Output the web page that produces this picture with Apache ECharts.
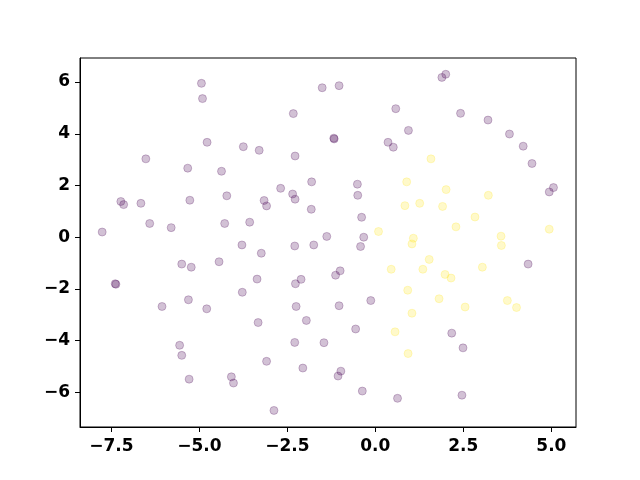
<!DOCTYPE html>
<html>
<head>
<meta charset="utf-8">
<script src="https://cdn.jsdelivr.net/npm/echarts@6/dist/echarts.min.js"></script>
<style>html,body{margin:0;padding:0;background:#fff}#c{width:640px;height:480px}</style>
</head>
<body>
<div id="c"></div>
<script>
// Class 0 (purple) points
const purpleX = [-7.76,-7.39,-7.37,-7.23,-7.15,-6.66,-6.52,-6.41,-6.06,-5.80,-5.56,-5.50,-5.50,-5.33,-5.31,-5.29,-5.27,-5.23,-4.94,-4.91,-4.78,-4.79,-4.44,-4.37,-4.28,-4.22,-4.09,-4.03,-3.79,-3.78,-3.75,-3.57,-3.36,-3.33,-3.30,-3.24,-3.16,-3.09,-3.09,-2.88,-2.69,-2.33,-2.35,-2.28,-2.28,-2.29,-2.27,-2.11,-2.25,-2.29,-2.06,-1.96,-1.81,-1.82,-1.75,-1.51,-1.46,-1.38,-1.18,-1.17,-1.03,-1.03,-1.00,-1.13,-0.98,-1.06,-0.56,-0.51,-0.50,-0.42,-0.39,-0.37,-0.33,-0.13,0.36,0.51,0.58,0.63,0.94,1.89,2.00,2.17,2.42,2.46,2.49,3.20,3.81,4.20,4.34,4.45,4.94,5.06];
const purpleY = [0.20,-1.80,-1.82,1.38,1.26,1.31,3.03,0.53,-2.68,0.37,-4.18,-4.57,-1.04,2.67,-2.42,-5.49,1.43,-1.16,5.95,5.36,3.67,-2.77,-0.95,2.55,0.53,1.60,-5.40,-5.64,-0.30,-2.13,3.50,0.58,-1.62,-3.30,3.36,-0.62,1.42,1.21,-4.80,-6.70,1.89,4.78,1.67,1.47,3.14,-0.34,-1.80,-1.63,-2.68,-4.07,-5.06,-3.22,2.14,1.08,-0.30,5.78,-4.08,0.03,3.83,3.80,5.86,-2.65,-1.30,-1.47,-5.18,-5.37,-3.55,2.05,1.62,-0.36,0.77,-5.95,0.00,-2.45,3.67,3.48,4.97,-6.23,4.13,6.18,6.30,-3.71,4.79,-6.11,-4.28,4.53,3.99,3.52,-1.04,2.85,1.75,1.92];
// Class 1 (yellow) points
const yellowX = [0.09,0.45,0.56,0.84,0.89,0.92,1.08,1.04,0.93,1.04,1.26,1.35,1.53,1.58,1.81,1.91,2.01,1.98,2.15,2.29,2.55,2.83,3.04,3.21,3.57,3.58,3.75,4.01,4.94];
const yellowY = [0.22,-1.24,-3.66,1.22,2.14,-2.05,-0.04,-0.26,-4.50,-2.94,1.31,-1.24,-0.86,3.03,-2.38,1.19,1.84,-1.44,-1.58,0.40,-2.70,0.78,-1.16,1.62,0.04,-0.32,-2.45,-2.72,0.31];
// Axis ticks and labels
const xTicks = [-7.5,-5.0,-2.5,0.0,2.5,5.0];
const xTickLabels = ['\u22127.5','\u22125.0','\u22122.5','0.0','2.5','5.0'];
const yTicks = [-6,-4,-2,0,2,4,6];
const yTickLabels = ['\u22126','\u22124','\u22122','0','2','4','6'];

const zip = (a,b) => a.map((v,i)=>[v,b[i]]);
const lbl = (ticks, labels) => v => { const i = ticks.findIndex(t => Math.abs(t - v) < 1e-6); return i >= 0 ? labels[i] : ''; };
const font = {fontFamily:'DejaVu Sans', fontWeight:'bold', fontSize:17, color:'#000'};

const chart = echarts.init(document.getElementById('c'), null, {renderer:'canvas'});
chart.setOption({
  animation:false,
  backgroundColor:'#fff',
  grid:{left:80, right:64, top:58, bottom:53, show:true, borderColor:'#000', borderWidth:1, backgroundColor:'transparent'},
  xAxis:{type:'value', min:-8.39, max:5.70,
    axisLine:{show:true, onZero:false, lineStyle:{color:'#000', width:1}},
    axisTick:{show:true, length:5, customValues:xTicks, lineStyle:{color:'#000', width:1}},
    axisLabel:Object.assign({margin:11, customValues:xTicks, formatter:lbl(xTicks,xTickLabels)}, font),
    splitLine:{show:false}},
  yAxis:{type:'value', min:-7.34, max:6.93,
    axisLine:{show:true, onZero:false, lineStyle:{color:'#000', width:1}},
    axisTick:{show:true, length:5, customValues:yTicks, lineStyle:{color:'#000', width:1}},
    axisLabel:Object.assign({margin:10, customValues:yTicks, formatter:lbl(yTicks,yTickLabels)}, font),
    splitLine:{show:false}},
  series:[
    {type:'scatter', data:zip(purpleX,purpleY), symbolSize:8,
     itemStyle:{color:'rgba(68,1,84,0.3)', borderColor:'rgba(68,1,84,0.3)', borderWidth:1}},
    {type:'scatter', data:zip(yellowX,yellowY), symbolSize:8,
     itemStyle:{color:'rgba(253,231,37,0.3)', borderColor:'rgba(253,231,37,0.3)', borderWidth:1}}
  ]
});
</script>
</body>
</html>
